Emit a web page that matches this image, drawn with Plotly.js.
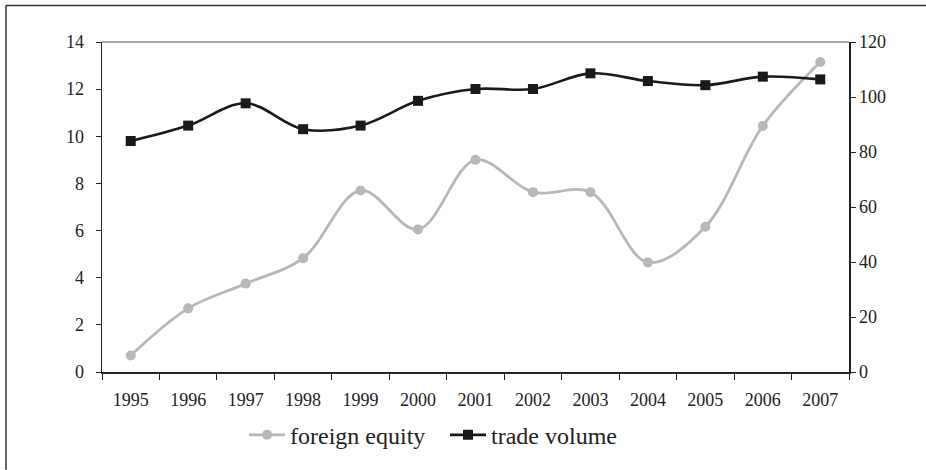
<!DOCTYPE html>
<html>
<head>
<meta charset="utf-8">
<script src="https://cdn.plot.ly/plotly-3.0.1.min.js"></script>
<style>html,body{margin:0;padding:0;background:#fff;}#chart{width:926px;height:470px;}</style>
</head>
<body>
<div id="chart"></div>
<script>
const years = ['1995','1996','1997','1998','1999','2000','2001','2002','2003','2004','2005','2006','2007'];
const foreignEquity = [0.7, 2.7, 3.75, 4.83, 7.7, 6.05, 9.0, 7.63, 7.63, 4.65, 6.16, 10.44, 13.15];
const tradeVolume = [84.0, 89.6, 97.7, 88.3, 89.6, 98.6, 102.9, 102.9, 108.6, 105.8, 104.3, 107.4, 106.4];
const leftTicks = [0, 2, 4, 6, 8, 10, 12, 14];
const rightTicks = [0, 20, 40, 60, 80, 100, 120];

const font = '"Liberation Serif", "Times New Roman", serif';
const traces = [
  {x: years, y: foreignEquity, name: 'foreign equity', type: 'scatter', mode: 'lines+markers',
   line: {color: '#b8b8b9', width: 2.8, shape: 'spline', smoothing: 1},
   marker: {symbol: 'circle', size: 10, color: '#b8b8b9'}, yaxis: 'y'},
  {x: years, y: tradeVolume, name: 'trade volume', type: 'scatter', mode: 'lines+markers',
   line: {color: '#1a1a1a', width: 2.6, shape: 'spline', smoothing: 1},
   marker: {symbol: 'square', size: 10, color: '#1a1a1a'}, yaxis: 'y2'}
];
const W = 747, H = 334;
const layout = {
  width: 926, height: 470,
  margin: {l: 102, r: 77, t: 42, b: 94},
  paper_bgcolor: '#fff', plot_bgcolor: '#fff',
  font: {family: font, size: 18, color: '#222'},
  showlegend: true,
  legend: {orientation: 'h', x: (244 - 102) / W, xanchor: 'left', y: (376 - 440) / H, yanchor: 'middle',
           font: {family: font, size: 24, color: '#222'}, itemwidth: 36, tracegroupgap: 0,
           entrywidth: 150, entrywidthmode: 'pixels'},
  xaxis: {type: 'category', tickson: 'boundaries', ticks: 'outside', ticklen: 6, tickcolor: '#222',
          showline: true, linecolor: '#222', linewidth: 1.5, showgrid: false, zeroline: false,
          ticklabelstandoff: 11, range: [-0.5, 12.5], fixedrange: true},
  yaxis: {range: [0, 14], tickvals: leftTicks, ticks: 'outside', ticklen: 5, tickcolor: '#222',
          showline: true, linecolor: '#222', linewidth: 1.5, showgrid: false, zeroline: false,
          ticklabelstandoff: 8},
  yaxis2: {range: [0, 120], tickvals: rightTicks, overlaying: 'y', side: 'right', ticks: 'outside',
           ticklen: 5, tickcolor: '#222', showline: true, linecolor: '#222', linewidth: 1.5,
           showgrid: false, zeroline: false, ticklabelstandoff: 0},
  shapes: [
    {type: 'line', xref: 'paper', yref: 'paper', x0: 0, x1: 1, y0: 1, y1: 1,
     line: {color: '#888', width: 1.5}},
    {type: 'line', xref: 'paper', yref: 'paper', x0: (6 - 102) / W, x1: (930 - 102) / W,
     y0: 1 + (42 - 5) / H, y1: 1 + (42 - 5) / H, line: {color: '#333', width: 1.5}},
    {type: 'line', xref: 'paper', yref: 'paper', x0: (6 - 102) / W, x1: (6 - 102) / W,
     y0: 1 + (42 - 5) / H, y1: (376 - 475) / H, line: {color: '#333', width: 1.5}}
  ]
};
Plotly.newPlot('chart', traces, layout, {displayModeBar: false, staticPlot: true});
</script>
</body>
</html>
